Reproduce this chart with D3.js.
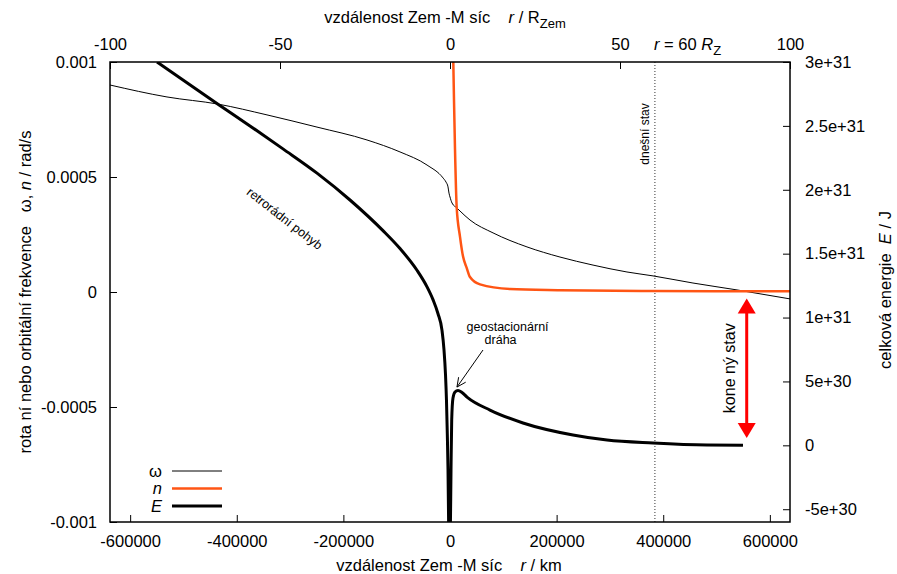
<!DOCTYPE html>
<html>
<head>
<meta charset="utf-8">
<script src="https://cdn.jsdelivr.net/npm/d3@7"></script>
<style>
  body { margin: 0; background: #fff; }
  svg { font-family: "Liberation Sans", Arial, sans-serif; }
  .tick text { font-size: 16.5px; fill: #000; }
  .tick line { stroke: #000; }
</style>
</head>
<body>
<svg></svg>
<script>
const width = 897;
const height = 574;
const plotLeft = 110, plotRight = 790, plotTop = 62, plotBottom = 522;

/* tick values and labels */
const kmTicks = [-600000, -400000, -200000, 0, 200000, 400000, 600000];
const earthRadiiTicks = [-100, -50, 0, 50, 100];
const freqTicks = [0.001, 0.0005, 0, -0.0005, -0.001];
const freqTickLabels = ['0.001', '0.0005', '0', '-0.0005', '-0.001'];
const energyTicks = [3e31, 2.5e31, 2e31, 1.5e31, 1e31, 5e30, 0, -5e30];
const energyTickLabels = ['3e+31', '2.5e+31', '2e+31', '1.5e+31', '1e+31', '5e+30', '0', '-5e+30'];

/* omega: rotation frequency of the Earth [km, rad/s] */
const omegaSeries = [
  [-637800, 9.0e-4], [-530900, 8.48e-4], [-435200, 8.17e-4], [-343300, 7.70e-4],
  [-249500, 7.17e-4], [-155700, 6.61e-4], [-93800, 6.09e-4], [-43100, 5.52e-4],
  [-13100, 4.96e-4], [-7500, 4.78e-4], [-3750, 4.57e-4], [-1900, 4.3e-4],
  [0, 4.13e-4], [3800, 3.87e-4], [13100, 3.65e-4], [18800, 3.52e-4],
  [37500, 3.13e-4], [80700, 2.57e-4], [144400, 1.96e-4], [206300, 1.52e-4],
  [268300, 1.17e-4], [332000, 8.7e-5], [380800, 7.0e-5], [455800, 3.9e-5],
  [538400, 0.9e-5], [637800, -3.0e-5]
];

/* n: orbital frequency of the Moon [km, rad/s] */
const nSeries = [
  [6200, 1.0e-3], [7500, 8.35e-4], [9400, 6.2e-4], [12500, 3.7e-4],
  [18800, 2.4e-4], [24400, 1.55e-4], [31300, 1.05e-4], [37500, 6.5e-5],
  [56300, 3.3e-5], [112600, 1.3e-5], [206300, 8e-6], [380800, 4e-6],
  [637800, 3e-6]
];

/* E: total energy [km, J] */
const energySeries = [
  [-549600, 3.0e31], [-435200, 2.67e31], [-375200, 2.50e31], [-313300, 2.32e31],
  [-249500, 2.13e31], [-187600, 1.92e31], [-125700, 1.68e31], [-93800, 1.54e31],
  [-61900, 1.37e31], [-43100, 1.24e31], [-31900, 1.14e31], [-22500, 1.03e31],
  [-15000, 9.0e30], [-11300, 7.5e30], [-8400, 5.5e30], [-6600, 3.5e30],
  [-5100, 9.6e29], [-3750, -1.9e30], [-2600, -6.0e30], [-1900, -9.0e30],
  [400, -7.4e30], [1900, -1.9e30], [3200, 2.0e30], [5600, 3.7e30],
  [9400, 4.17e30], [15000, 4.29e30], [22500, 4.13e30], [31900, 3.78e30],
  [75000, 2.76e30], [136900, 1.75e30], [230700, 8.1e29], [294500, 4.1e29],
  [380800, 1.8e29], [482100, 2e28], [549600, 0]
];

/* annotations */
const moonDistance = 384400;
const finalArrow = { x: 556600, top: 1.15e31, bottom: 5.7e29 };
const geoArrow = { fromX: 61900, fromE: 7.46e30, toX: 13100, toE: 4.56e30 };
const geoLabel = { x: 108000, e: 8.95e30 };

const svg = d3.select('svg')
  .attr('width', width)
  .attr('height', height);

const x = d3.scaleLinear().domain([-637800, 637800]).range([plotLeft, plotRight]);
const x2 = d3.scaleLinear().domain([-100, 100]).range([plotLeft, plotRight]);
const y = d3.scaleLinear().domain([-0.001, 0.001]).range([plotBottom, plotTop]);
const y2 = d3.scaleLinear().domain([-6e30, 3e31]).range([plotBottom, plotTop]);

/* gnuplot style labels: plain hyphen as minus sign */
const plain = d => String(d);

svg.append('defs').append('clipPath')
  .attr('id', 'plot-clip')
  .append('rect')
    .attr('x', plotLeft)
    .attr('y', plotTop)
    .attr('width', plotRight - plotLeft)
    .attr('height', plotBottom - plotTop);

/* axes, ticks pointing inwards */
svg.append('g')
  .attr('transform', `translate(0, ${plotBottom})`)
  .call(d3.axisBottom(x).tickValues(kmTicks).tickFormat(plain).tickSize(-7).tickPadding(13));

svg.append('g')
  .attr('transform', `translate(0, ${plotTop})`)
  .call(d3.axisTop(x2).tickValues(earthRadiiTicks).tickFormat(plain).tickSize(-7).tickPadding(12));

svg.append('g')
  .attr('transform', `translate(${plotLeft}, 0)`)
  .call(d3.axisLeft(y).tickValues(freqTicks).tickFormat((d, i) => freqTickLabels[i]).tickSize(-7).tickPadding(13));

svg.append('g')
  .attr('transform', `translate(${plotRight}, 0)`)
  .call(d3.axisRight(y2).tickValues(energyTicks).tickFormat((d, i) => energyTickLabels[i]).tickSize(-7).tickPadding(15));

svg.selectAll('.domain').remove();
svg.selectAll('.tick text').attr('font-family', null).attr('font-size', null);

/* today's distance */
svg.append('line')
  .attr('x1', x(moonDistance)).attr('x2', x(moonDistance))
  .attr('y1', plotTop).attr('y2', plotBottom)
  .attr('stroke', '#333')
  .attr('stroke-width', 1)
  .attr('stroke-dasharray', '1,2');

const plotArea = svg.append('g').attr('clip-path', 'url(#plot-clip)');

const omegaLine = d3.line().x(d => x(d[0])).y(d => y(d[1])).curve(d3.curveMonotoneX);
const energyLine = d3.line().x(d => x(d[0])).y(d => y2(d[1])).curve(d3.curveMonotoneX);

plotArea.append('path')
  .datum(omegaSeries)
  .attr('d', omegaLine)
  .attr('fill', 'none')
  .attr('stroke', '#000')
  .attr('stroke-width', 1);

plotArea.append('path')
  .datum(nSeries)
  .attr('d', omegaLine)
  .attr('fill', 'none')
  .attr('stroke', '#ff5514')
  .attr('stroke-width', 2.5);

plotArea.append('path')
  .datum(energySeries)
  .attr('d', energyLine)
  .attr('fill', 'none')
  .attr('stroke', '#000')
  .attr('stroke-width', 3)
  .attr('stroke-linejoin', 'round');

/* border */
svg.append('rect')
  .attr('x', plotLeft)
  .attr('y', plotTop)
  .attr('width', plotRight - plotLeft)
  .attr('height', plotBottom - plotTop)
  .attr('fill', 'none')
  .attr('stroke', '#000')
  .attr('stroke-width', 1.5);

/* red double arrow: final state */
const ax = x(finalArrow.x);
const aTop = y2(finalArrow.top);
const aBot = y2(finalArrow.bottom);
const headLen = 15, headHalf = 9;
svg.append('line')
  .attr('x1', ax).attr('x2', ax)
  .attr('y1', aTop + headLen - 1).attr('y2', aBot - headLen + 1)
  .attr('stroke', '#ff0000')
  .attr('stroke-width', 3);
svg.append('path')
  .attr('d', `M${ax},${aTop}L${ax - headHalf},${aTop + headLen}L${ax + headHalf},${aTop + headLen}Z`)
  .attr('fill', '#ff0000');
svg.append('path')
  .attr('d', `M${ax},${aBot}L${ax - headHalf},${aBot - headLen}L${ax + headHalf},${aBot - headLen}Z`)
  .attr('fill', '#ff0000');

svg.append('text')
  .attr('transform', `translate(${ax - 12}, ${(aTop + aBot) / 2}) rotate(-90)`)
  .style('text-anchor', 'middle')
  .style('font-size', '16px')
  .style('white-space', 'pre')
  .text('kone ný stav');

/* geostationary orbit arrow */
const gx1 = x(geoArrow.fromX), gy1 = y2(geoArrow.fromE);
const gx2 = x(geoArrow.toX), gy2 = y2(geoArrow.toE);
const ang = Math.atan2(gy2 - gy1, gx2 - gx1);
const hl = 10, ha = Math.PI / 7;
svg.append('path')
  .attr('d', `M${gx1},${gy1}L${gx2},${gy2}` +
    `M${gx2 - hl * Math.cos(ang - ha)},${gy2 - hl * Math.sin(ang - ha)}L${gx2},${gy2}` +
    `L${gx2 - hl * Math.cos(ang + ha)},${gy2 - hl * Math.sin(ang + ha)}`)
  .attr('fill', 'none')
  .attr('stroke', '#000')
  .attr('stroke-width', 1);

const geoText = svg.append('text')
  .attr('x', x(geoLabel.x))
  .attr('y', y2(geoLabel.e))
  .style('text-anchor', 'middle')
  .style('font-size', '12.5px');
geoText.append('tspan').text('geostacionární');
geoText.append('tspan').attr('x', x(geoLabel.x) - 7).attr('dy', 13).text('dráha');

/* small labels */
svg.append('text')
  .attr('transform', `translate(${x(moonDistance) - 6}, 134) rotate(-90)`)
  .style('text-anchor', 'middle')
  .style('font-size', '12px')
  .text('dnešní stav');

svg.append('text')
  .attr('transform', `translate(282, 222) rotate(38)`)
  .style('text-anchor', 'middle')
  .style('font-size', '12.5px')
  .text('retrorádní pohyb');

/* r = 60 R_Z */
const r60 = svg.append('text')
  .attr('x', x2(60))
  .attr('y', 50)
  .style('font-size', '16.5px')
  .style('white-space', 'pre');
r60.append('tspan').style('font-style', 'italic').text('r');
r60.append('tspan').text(' = 60 ');
r60.append('tspan').style('font-style', 'italic').text('R');
r60.append('tspan').attr('dy', 5).style('font-size', '13px').text('Z');

/* axis titles */
const topTitle = svg.append('text')
  .attr('x', 445)
  .attr('y', 23)
  .style('text-anchor', 'middle')
  .style('font-size', '16.5px')
  .style('white-space', 'pre');
topTitle.append('tspan').text('vzdálenost Zem -M síc    ');
topTitle.append('tspan').style('font-style', 'italic').text('r');
topTitle.append('tspan').text(' / R');
topTitle.append('tspan').attr('dy', 5).style('font-size', '13px').text('Zem');

const bottomTitle = svg.append('text')
  .attr('x', 449)
  .attr('y', 571)
  .style('text-anchor', 'middle')
  .style('font-size', '16.5px')
  .style('white-space', 'pre');
bottomTitle.append('tspan').text('vzdálenost Zem -M síc    ');
bottomTitle.append('tspan').style('font-style', 'italic').text('r');
bottomTitle.append('tspan').text(' / km');

const leftTitle = svg.append('text')
  .attr('transform', `translate(31, 292) rotate(-90)`)
  .style('text-anchor', 'middle')
  .style('font-size', '16.5px')
  .style('white-space', 'pre');
leftTitle.append('tspan').text('rota ní nebo orbitální frekvence   ω, ');
leftTitle.append('tspan').style('font-style', 'italic').text('n');
leftTitle.append('tspan').text(' / rad/s');

const rightTitle = svg.append('text')
  .attr('transform', `translate(891, 290) rotate(-90)`)
  .style('text-anchor', 'middle')
  .style('font-size', '16.5px')
  .style('white-space', 'pre');
rightTitle.append('tspan').text('celková energie  ');
rightTitle.append('tspan').style('font-style', 'italic').text('E');
rightTitle.append('tspan').text(' / J');

/* legend */
const legendItems = [
  { label: 'ω', italic: false, color: '#000', width: 1 },
  { label: 'n', italic: true, color: '#ff5514', width: 2.5 },
  { label: 'E', italic: true, color: '#000', width: 3 }
];
const legend = svg.append('g').attr('transform', 'translate(0, 471)');
legendItems.forEach((item, i) => {
  const row = legend.append('g').attr('transform', `translate(0, ${i * 17.5})`);
  row.append('text')
    .attr('x', 162)
    .attr('dy', '0.35em')
    .style('text-anchor', 'end')
    .style('font-size', '16.5px')
    .style('font-style', item.italic ? 'italic' : 'normal')
    .text(item.label);
  row.append('line')
    .attr('x1', 172).attr('x2', 222)
    .attr('stroke', item.color)
    .attr('stroke-width', item.width);
});
</script>
</body>
</html>
